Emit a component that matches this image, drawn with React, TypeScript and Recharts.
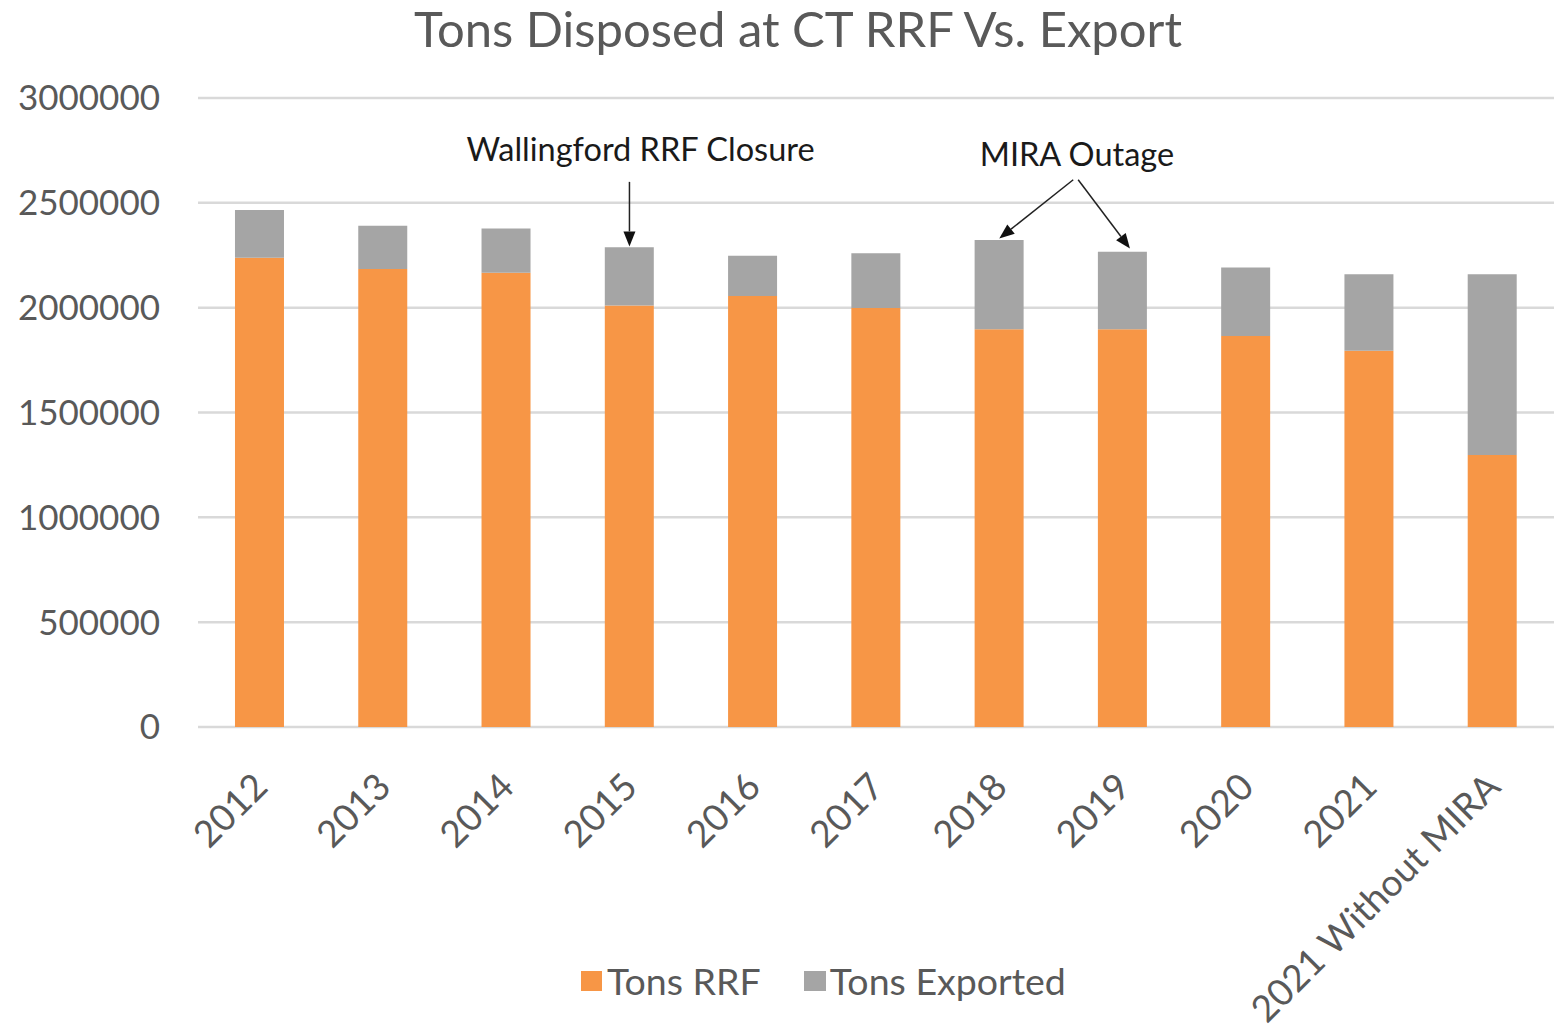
import React from 'react';
import { BarChart, Bar, XAxis, YAxis, CartesianGrid, ReferenceLine, ReferenceDot } from 'recharts';

const years = ['2012', '2013', '2014', '2015', '2016', '2017', '2018', '2019', '2020', '2021', '2021 Without MIRA'];
const tonsRRF = [2238000, 2185000, 2167000, 2010000, 2056000, 1999000, 1897000, 1897000, 1865000, 1794000, 1297000];
const tonsExported = [228000, 206000, 210000, 278000, 192000, 260000, 426000, 370000, 326000, 365000, 862000];
const yTicks = [0, 500000, 1000000, 1500000, 2000000, 2500000, 3000000];

// annotation arrows, x in category index units, y in tons
const wallingfordArrow = [{ x: 3, y: 2600000 }, { x: 3, y: 2292000 }];
const miraArrowA = [{ x: 6.6, y: 2610000 }, { x: 6.0, y: 2330000 }];
const miraArrowB = [{ x: 6.64, y: 2610000 }, { x: 7.06, y: 2282000 }];
const wallingfordLabel = { x: 3.09, y: 2700000, text: 'Wallingford RRF Closure' };
const miraLabel = { x: 6.63, y: 2676000, text: 'MIRA Outage' };

const data = years.map((year, i) => ({ year, idx: i, rrf: tonsRRF[i], exported: tonsExported[i] }));

const FONT = 'Lato, "Open Sans", sans-serif';
const TEXT = '#595959';

const XTick = ({ x, y, payload }: any) => (
  <g transform={`translate(${x + 10},${y + 62})`}>
    <text textAnchor="end" transform="rotate(-45)" fill={TEXT} fontSize={37} fontFamily={FONT}>
      {payload.value}
    </text>
  </g>
);

const Arrow = (props: any) => {
  const { x1, y1, x2, y2 } = props;
  const dx = x2 - x1;
  const dy = y2 - y1;
  const len = Math.sqrt(dx * dx + dy * dy) || 1;
  const ux = dx / len;
  const uy = dy / len;
  const head = 15;
  const half = 6;
  const bx = x2 - ux * head;
  const by = y2 - uy * head;
  return (
    <g>
      <line x1={x1} y1={y1} x2={bx} y2={by} stroke="#222" strokeWidth={1.5} />
      <polygon
        points={`${x2},${y2} ${bx - uy * half},${by + ux * half} ${bx + uy * half},${by - ux * half}`}
        fill="#111"
      />
    </g>
  );
};

const labelShape = (text: string) => (props: any) => (
  <text x={props.cx} y={props.cy} textAnchor="middle" fill="#1a1a1a" fontSize={32.5} fontFamily={FONT}>
    {text}
  </text>
);

const App: React.FC = () => {
  return (
    <div style={{ position: 'absolute', left: 0, top: 0, width: 1565, height: 1030, background: '#fff', fontFamily: FONT }}>
      <div
        style={{
          position: 'absolute',
          top: 0,
          left: 0,
          width: 1596,
          textAlign: 'center',
          fontSize: 49,
          color: TEXT,
          lineHeight: '56px',
        }}
      >
        Tons Disposed at CT RRF Vs. Export
      </div>
      <BarChart
        width={1565}
        height={1030}
        data={data}
        margin={{ top: 98, right: 11, bottom: 0, left: 0 }}
        barCategoryGap="30%"
      >
        <CartesianGrid vertical={false} stroke="#D9D9D9" strokeWidth={2.5} />
        <XAxis
          dataKey="year"
          height={303}
          tickLine={false}
          axisLine={false}
          tickSize={0}
          tickMargin={0}
          interval={0}
          tick={<XTick />}
        />
        <XAxis
          xAxisId="num"
          dataKey="idx"
          type="number"
          domain={[-0.5, 10.5]}
          allowDataOverflow
          padding={{ left: 0, right: 0 }}
          hide
        />
        <YAxis
          width={198}
          domain={[0, 3000000]}
          ticks={yTicks}
          tickLine={false}
          axisLine={false}
          tickSize={0}
          tickMargin={38}
          tick={{ fill: TEXT, fontSize: 35, fontFamily: FONT }}
        />
        <Bar dataKey="rrf" stackId="a" fill="#F79646" isAnimationActive={false} />
        <Bar dataKey="exported" stackId="a" fill="#A5A5A5" isAnimationActive={false} />
        <ReferenceLine xAxisId="num" segment={wallingfordArrow} shape={Arrow} />
        <ReferenceLine xAxisId="num" segment={miraArrowA} shape={Arrow} />
        <ReferenceLine xAxisId="num" segment={miraArrowB} shape={Arrow} />
        <ReferenceDot xAxisId="num" x={wallingfordLabel.x} y={wallingfordLabel.y} r={0} shape={labelShape(wallingfordLabel.text)} />
        <ReferenceDot xAxisId="num" x={miraLabel.x} y={miraLabel.y} r={0} shape={labelShape(miraLabel.text)} />
      </BarChart>
      <div
        style={{
          position: 'absolute',
          top: 958,
          left: 581,
          display: 'flex',
          alignItems: 'center',
          fontSize: 37.5,
          color: TEXT,
          lineHeight: '46px',
        }}
      >
        <span style={{ display: 'inline-block', width: 21, height: 20, background: '#F79646', marginRight: 5 }} />
        <span style={{ marginRight: 43 }}>Tons RRF</span>
        <span style={{ display: 'inline-block', width: 22, height: 20, background: '#A5A5A5', marginRight: 4 }} />
        <span>Tons Exported</span>
      </div>
    </div>
  );
};

export default App;
